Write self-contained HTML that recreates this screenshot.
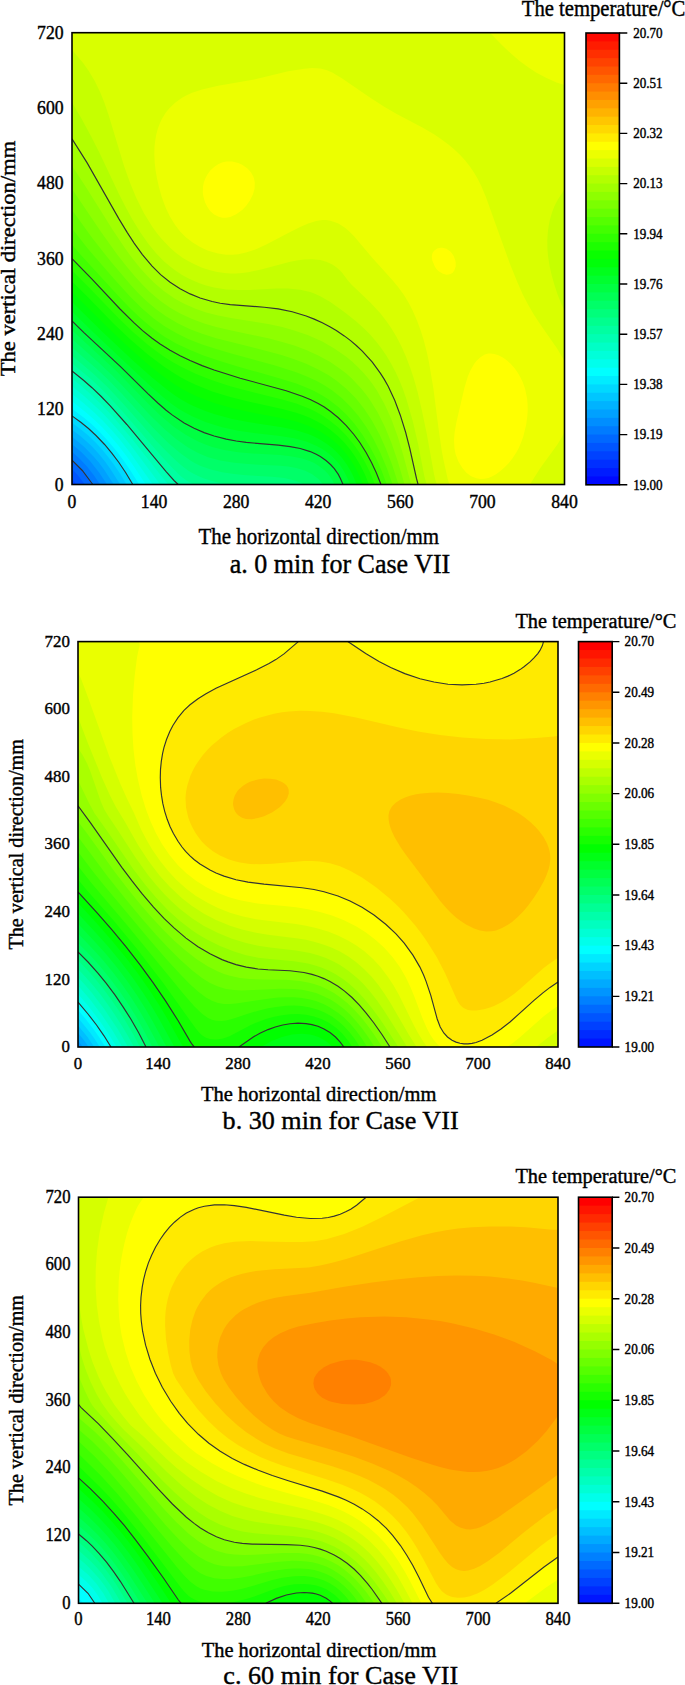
<!DOCTYPE html>
<html lang="en"><head><meta charset="utf-8"><title>Temperature distribution for Case VII</title>
<style>
html,body{margin:0;padding:0;background:#fff}
body{width:685px;height:1685px;overflow:hidden}
svg{display:block}
svg text{font-family:"Liberation Serif","DejaVu Serif",serif;fill:#000;stroke:#000;stroke-width:0.4px}
</style></head><body>
<svg width="685" height="1685" viewBox="0 0 685 1685">
<rect width="685" height="1685" fill="#fff"/>
<g id="plot-a">
<clipPath id="cpa"><rect x="72" y="32.7" width="492.5" height="451.8"/></clipPath>
<g clip-path="url(#cpa)">
<rect x="71" y="31.7" width="494.5" height="453.8" fill="#0042ff"/>
<path d="M72,32.7L564.5,32.7L564.5,484.5L76.5,484.5L72,479Z" fill="#0055ff" fill-rule="evenodd"/>
<path d="M72,32.7L564.5,32.7L564.5,484.5L84.9,484.5L78,475.6L72,469.1Z" fill="#0068ff" fill-rule="evenodd"/>
<path d="M72,32.7L564.5,32.7L564.5,484.5L92.8,484.5L82.3,470.5L72,460.1Z" fill="#007bff" fill-rule="evenodd"/>
<path d="M72,32.7L564.5,32.7L564.5,484.5L100.1,484.5L94,475.6L87,466.5L79.4,458.5L72,451.8Z" fill="#008eff" fill-rule="evenodd"/>
<path d="M72,32.7L564.5,32.7L564.5,484.5L107.1,484.5L99.1,472.5L90,461L81.8,452.5L72,444.2Z" fill="#00a1ff" fill-rule="evenodd"/>
<path d="M72,32.7L564.5,32.7L564.5,484.5L113.8,484.5L104,469.5L98.8,462.5L94,456.9L83.8,446.5L72,436.8Z" fill="#00b3ff" fill-rule="evenodd"/>
<path d="M72,32.7L564.5,32.7L564.5,484.5L120.2,484.5L110,468.4L104.2,460.5L98,453L92,446.6L86,440.9L80,435.8L72,429.7Z" fill="#00c6ff" fill-rule="evenodd"/>
<path d="M72,32.7L564.5,32.7L564.5,484.5L126.6,484.5L120.6,474.5L114,464.7L108,456.7L102,449.5L95.6,442.5L88,435.3L80,428.7L72,422.8Z" fill="#00d9ff" fill-rule="evenodd"/>
<path d="M72,32.7L564.5,32.7L564.5,484.5L132.8,484.5L125.6,472.5L118.9,462.5L112,453.4L104.6,444.5L96,435.5L88.5,428.5L81.1,422.5L72,415.9Z" fill="#00ecff" fill-rule="evenodd"/>
<path d="M72,32.7L564.5,32.7L564.5,484.5L139.2,484.5L130.4,470.5L123.6,460.5L116.1,450.5L108,440.9L100,432.3L92,424.6L84,417.8L72,408.7Z" fill="#00ffff" fill-rule="evenodd"/>
<path d="M72,32.7L564.5,32.7L564.5,484.5L145.8,484.5L133.9,466.5L126.8,456.5L118,445.1L110,435.7L102,427.1L94,419.4L86,412.4L72,401.3Z" fill="#00ffec" fill-rule="evenodd"/>
<path d="M72,32.7L564.5,32.7L564.5,484.5L152.8,484.5L130,452.5L120.6,440.5L112,430.6L102.6,420.5L94,412.2L84,403.5L72,393.7Z" fill="#00ffd9" fill-rule="evenodd"/>
<path d="M72,32.7L564.5,32.7L564.5,484.5L160.2,484.5L133.2,448.5L123.6,436.5L114,425.4L104,414.6L94,404.9L84,396L72,386.1Z" fill="#00ffc6" fill-rule="evenodd"/>
<path d="M72,32.7L564.5,32.7L564.5,484.5L168.4,484.5L160.1,474.5L131.7,438.5L112.9,416.5L102,405.1L92,395.5L82,386.6L72,378.5Z" fill="#00ffb3" fill-rule="evenodd"/>
<path d="M72,32.7L564.5,32.7L564.5,484.5L178.1,484.5L174,480.5L166.1,471.6L126.8,424.5L110,405.7L101.2,396.5L92,387.7L83.8,380.5L72,371Z" fill="#00ffa1" fill-rule="evenodd"/>
<path d="M72,32.7L564.5,32.7L564.5,484.5L193.6,484.5L186.1,480.2L182.1,477.3L178.1,473.7L170.1,465.6L160.1,454.8L123.5,412.5L108,395.6L100,387.5L92,380L72,363.3Z" fill="#00ff8e" fill-rule="evenodd"/>
<path d="M72,32.7L564.5,32.7L564.5,484.5L228.3,484.5L220.2,483L212.1,481L204.1,478.5L198.1,476L192.1,473L188.1,470.5L182.1,466L176.1,460.8L166.1,451.1L156.1,440.7L122.1,402.5L108,387.6L94,374.2L72,355.4Z" fill="#00ff7b" fill-rule="evenodd"/>
<path d="M72,32.7L564.5,32.7L564.5,484.5L304,484.5L300.1,482.5L294.7,480.5L284.2,478.1L272.2,476.8L246.2,475.2L234.2,474.1L222.2,472.2L210.1,469.3L200.1,465.7L194.1,462.7L190.1,460.3L180.1,453.1L168.1,442.7L152.1,426.8L122.1,394L109.1,380.5L96,368.2L72,347.4Z" fill="#00ff68" fill-rule="evenodd"/>
<path d="M72,32.7L564.5,32.7L564.5,484.5L323.1,484.5L318.2,478.8L312.2,474.2L304.7,470.5L296.2,468L288.2,466.5L280.2,465.7L248.2,464.1L234.2,462.8L220.2,460.5L208.1,457.2L198.1,453.1L188.1,447.6L176.1,439L164.1,428.8L150.1,415.2L123.2,386.5L111.3,374.5L98,362.1L72,339Z" fill="#00ff55" fill-rule="evenodd"/>
<path d="M72,32.7L564.5,32.7L564.5,484.5L334.5,484.5L332.5,480.5L330.3,476.9L328.3,474.3L324.8,470.5L318.2,465.4L314.2,463.1L310.2,461.3L302.2,458.5L292.2,456.5L280.2,455.1L252.2,453.5L238.2,452.2L224.2,449.9L212.1,446.9L204.1,444.1L198.1,441.5L186.1,435.1L174.1,426.9L168.1,422.1L160.1,415.2L148.1,403.6L115.8,370.6L72,330.3Z" fill="#00ff42" fill-rule="evenodd"/>
<path d="M72,32.7L564.5,32.7L564.5,484.5L343,484.5L340.4,478.5L338.3,474.5L335.6,470.5L332.3,466.3L328.3,462.4L324.3,459.2L320.3,456.5L314.2,453.3L304.2,449.6L294.2,447.3L280.2,445.3L252.2,443.1L238.2,441.4L224.2,438.7L210.1,434.7L202.1,431.8L196.1,429.2L188.1,425.2L182.1,421.7L170.1,413.4L156.1,401.4L120.5,366.6L83.9,332.6L72,321Z" fill="#00ff2f" fill-rule="evenodd"/>
<path d="M72,32.7L564.5,32.7L564.5,484.5L350.1,484.5L347.7,478.5L344.3,471.7L340.3,465.6L336.3,460.7L332.3,456.6L327.3,452.5L322.3,449L316.2,445.7L306.2,441.6L294.2,438.3L280.2,436L252.2,432.8L238.2,430.7L222.2,427.2L206.1,422.2L192.1,416.3L184.1,412.1L178.1,408.4L172.1,404.2L164.1,398.1L150.1,385.8L93.5,332.6L72,311.6Z" fill="#00ff1c" fill-rule="evenodd"/>
<path d="M72,32.7L564.5,32.7L564.5,484.5L356.6,484.5L353.4,476.5L350.4,470.5L346.8,464.5L342.3,458.3L337.1,452.5L332.3,448.1L326.3,443.5L320.3,439.7L314.2,436.6L308.2,434L296.2,430.2L282.2,427.2L248.2,422L232.2,418.9L214.1,414L206.1,411.3L198.1,408.1L190.1,404.4L182.1,400L176.1,396.2L168.1,390.6L152.1,377.6L132.1,359.7L103.1,332.6L72,302Z" fill="#00ff09" fill-rule="evenodd"/>
<path d="M72,32.7L564.5,32.7L564.5,484.5L362.9,484.5L359.6,476.5L355.8,468.5L351,460.5L346.3,454L340.3,447.1L334.3,441.5L328.3,436.7L320.3,431.5L314.2,428.4L308.2,425.7L296.2,421.6L282.2,418.2L248.2,411.8L232.2,408.2L214.1,403.1L198.1,397L190.1,393.3L182.1,389L174.1,384L166.1,378.5L158.1,372.5L148.1,364.4L128.1,346.8L108.8,328.6L72,291.9Z" fill="#09ff00" fill-rule="evenodd"/>
<path d="M72,32.7L564.5,32.7L564.5,484.5L369,484.5L364.9,474.5L360.3,465.2L355.1,456.5L350.3,449.8L344.3,442.6L338.3,436.5L330.3,429.8L322.3,424.3L316.2,420.9L310.2,418L304.2,415.5L296.2,412.8L282.2,409L248.2,401.6L230.2,397L212.1,391.4L196.1,385L188.1,381.2L180.1,376.9L172.1,372.1L164.1,366.8L148.1,354.8L130.1,339.2L114,323.9L86,295.3L72,281.5Z" fill="#1cff00" fill-rule="evenodd"/>
<path d="M72,32.7L564.5,32.7L564.5,484.5L375,484.5L370.1,472.5L365.1,462.5L359.3,452.5L353.7,444.5L346.3,435.5L338.3,427.5L330.3,420.9L322.3,415.4L316.2,412L310.2,409.1L296.2,403.6L282.2,399.6L248.2,391.1L230.2,386.2L212.1,380.3L196.1,374L180.1,366.2L172.1,361.7L164.1,356.7L156.1,351.1L148.1,345.1L133.5,332.6L118.9,318.6L88,286.4L72,270.6Z" fill="#2fff00" fill-rule="evenodd"/>
<path d="M72,32.7L564.5,32.7L564.5,484.5L381,484.5L376.2,472.5L370.3,460.1L364.3,449.5L357,438.5L350.3,430.1L342.3,421.5L334.3,414.4L324.3,407.1L318.2,403.5L312.2,400.4L304.2,396.9L296.2,394L282.2,389.6L246.2,379.9L226.2,374L208.1,367.9L192.1,361.4L176.1,353.7L162.1,345.3L149.9,336.6L136.1,324.8L121.5,310.6L92,279.1L72,258.7Z" fill="#42ff00" fill-rule="evenodd"/>
<path d="M72,32.7L564.5,32.7L564.5,484.5L386.8,484.5L381.5,470.5L376.1,458.5L369.8,446.5L362.3,434.4L354.3,423.6L346.3,414.6L338.3,407L328.3,399.3L322.3,395.5L314.2,391.1L306.2,387.4L296.2,383.6L278.2,377.9L240.2,367.2L222.2,361.8L204.1,355.7L190.1,350.1L176.1,343.5L164.1,336.5L152.1,328L140.1,317.8L130.4,308.6L120,297.8L80.4,254.6L72,244.8Z" fill="#55ff00" fill-rule="evenodd"/>
<path d="M72,32.7L564.5,32.7L564.5,484.5L392.6,484.5L387,468.5L380.3,452.7L373.2,438.5L366.3,427L358.3,415.8L350.3,406.4L342.3,398.5L332.3,390.5L324.3,385.3L316.2,380.8L306.2,376.2L296.2,372.3L274.2,365.3L232.2,353.8L216.1,349.1L202.1,344.5L188.1,338.9L176.1,333.1L164.1,326L153.8,318.6L142.1,308.6L130,296.6L113.7,278.6L87.7,248.6L72,228.5Z" fill="#68ff00" fill-rule="evenodd"/>
<path d="M72,32.7L564.5,32.7L564.5,484.5L398.5,484.5L392,464.5L385.8,448.5L379.5,434.5L371.9,420.5L364.3,409L356,398.5L346.3,388.7L336.3,380.5L328.3,375.1L318.2,369.4L306.2,363.8L294.2,359.2L282.2,355.3L270.2,351.9L216.1,338.2L202.1,333.8L190.1,329.2L178.1,323.6L166.3,316.6L156.1,309.2L146.1,300.7L138.1,292.9L130.3,284.6L111.6,262.6L92.6,238.6L72,209.9Z" fill="#7bff00" fill-rule="evenodd"/>
<path d="M72,32.7L564.5,32.7L564.5,484.5L404.6,484.5L397.5,460.5L391.3,442.5L384.7,426.5L377.7,412.5L370.3,400.5L366,394.5L361.2,388.5L351.8,378.5L346.3,373.6L340.3,368.9L330.3,362.1L318.2,355.5L306.2,350.1L294.2,345.6L282.2,341.9L268.2,338.3L230.2,330.3L216.1,327L204.1,323.5L192.1,319.1L180.1,313.5L170.1,307.7L160.1,300.7L150.1,292.2L142.3,284.6L135,276.6L126.6,266.6L117.2,254.6L101.4,232.6L72,189.1Z" fill="#8eff00" fill-rule="evenodd"/>
<path d="M72,32.7L564.5,32.7L564.5,484.5L411.1,484.5L403.1,454.5L397.7,436.5L391.1,418.5L384.3,403.7L376.9,390.5L372.3,383.8L368.3,378.5L363.2,372.5L358.3,367.4L352.3,361.8L346.3,356.8L334.3,348.4L322.3,341.6L308.2,335.3L294.2,330.4L282.2,327L268.2,323.9L232.2,318.3L218.1,315.6L206.1,312.5L196.1,309.1L184.1,303.8L174.1,298.2L164.1,291.3L154.1,282.8L147.8,276.6L140.1,268L132.5,258.6L125.2,248.6L113.1,230.6L86,187.2L72,165.8Z" fill="#a1ff00" fill-rule="evenodd"/>
<path d="M72,32.7L564.5,32.7L564.5,484.5L418.1,484.5L416.5,478.5L409.8,448.5L404.5,428.5L398.7,410.5L392.2,394.5L388.3,386.6L384.3,379.4L380.3,373.1L375.7,366.6L370.3,359.8L364.3,353.2L358.3,347.3L352.3,342L342.3,334.5L330.3,326.9L318.2,320.8L306.2,316L292.2,311.7L278.2,308.9L264.2,307.2L238.2,305.4L228.2,304.4L218.1,302.8L208.1,300.5L201.9,298.6L194.1,295.7L182.1,289.9L176.1,286.4L170.5,282.6L160.1,274.1L152.5,266.6L145.6,258.6L137.9,248.6L130.1,237L117.7,216.6L88,164.4L72,138.8Z" fill="#b3ff00" fill-rule="evenodd"/>
<path d="M72,32.7L564.5,32.7L564.5,484.5L426.7,484.5L424.4,476.5L418.2,444.5L412.6,420.5L406.2,398.5L402.7,388.5L399.4,380.5L395.8,372.5L391.6,364.6L386.3,355.6L381.5,348.6L376.3,341.8L370.3,334.8L364.3,328.7L356.3,321.4L344.3,311.9L330.3,302.1L320.3,296.3L314.2,293.6L310.2,292.1L300.2,289.7L288.2,288.4L276.2,288.4L250.2,289.9L238.2,290.1L226.2,289.4L214.1,287.5L206.1,285.5L200.1,283.5L194.1,281.1L188.1,278.3L182.1,275L176.1,271.1L170.1,266.6L164.1,261.4L156.1,253.2L148.1,243.4L140.1,232L132.1,218.9L126.1,208L119.2,194.6L99.3,152.6L91.3,136.7L81.6,118.7L72,102.5Z" fill="#c6ff00" fill-rule="evenodd"/>
<path d="M72,32.7L564.5,32.7L564.5,188.9L562.5,192.6L558.5,198.5L556.5,202L554.3,206.6L552,212.6L549.7,220.6L548.6,226.6L547.8,232.6L547.3,240.6L547.4,248.6L548.1,256.6L549.7,266.6L551.5,274.6L554.3,284.6L557.6,294.6L561.6,304.6L564.5,310.5L564.5,478.7L560.5,484.5L436.9,484.5L435.5,480.5L434.1,474.5L426.9,434.5L421.9,410.5L417.7,392.5L413.8,378.5L410.3,368.1L405.9,356.6L401.5,346.6L396.3,336.6L391.5,328.6L386.3,320.9L380.3,313.3L370.3,302.5L351.4,284.6L347.9,280.6L342.3,272.9L340.3,270.8L336.3,267.3L332.3,264.6L326.3,261.8L320.3,260.1L312.2,259.2L304.2,259.4L298.2,260.2L290.2,261.7L260.2,269.7L248.2,272.2L242.2,273L236.2,273.4L230.2,273.4L224.2,273L216.1,271.7L210.1,270.3L202.1,267.7L194.9,264.6L188.1,261.1L182.1,257.4L176.1,252.9L170.1,247.8L161.3,238.6L156.4,232.6L152.1,226.5L144.1,213.5L136.1,197.5L130.1,183.1L124.2,166.6L108.5,114.7L104.4,102.7L100.4,92.7L94.6,80.7L88.6,70.7L82.9,62.7L74,52.3L72,49.5Z" fill="#d9ff00" fill-rule="evenodd"/>
<path d="M489.9,32.7L564.5,32.7L564.5,84.9L556.5,82.4L546.5,78.1L536.5,72.7L528.5,67.5L519.3,60.7L510.4,53.1L502.4,45.5ZM304.3,68.7L312.2,68.1L320.3,68.4L326.3,69.9L332.3,72.5L342.6,78.7L370.3,97.8L384.3,106.8L396.3,113.7L422.4,127.5L434.4,134.5L440.6,138.7L448.4,144.4L454.4,149.5L460.4,155.3L465.2,160.6L469.9,166.6L474,172.6L477.5,178.6L481.5,186.6L485.7,196.6L510.2,264.6L517.5,282.6L522.8,294.6L528,304.6L533.8,314.6L540.4,324.6L557.1,348.6L564.5,360.9L564.5,432.1L561.1,438.5L557.4,444.5L540,468.5L529.9,484.5L449.7,484.5L448.7,482.5L447.6,478.5L443.6,460.5L441.7,450.5L438.8,430.5L433.4,388.5L429,362.6L426.9,352.6L423.8,340.6L420.7,330.6L417,320.6L412.6,310.6L408.5,302.6L403.6,294.6L398.3,287.2L392.3,280L372.9,258.6L354.3,236.4L348.3,230.5L344.3,227.2L338.3,223.6L334.3,221.9L330.3,220.8L326.3,220.1L322.3,220.1L316.2,221.1L308.2,223.6L300.2,227L290.2,231.9L266.3,244.6L258.2,248.3L252.4,250.6L246,252.6L238.2,254.2L232.2,254.8L226.2,254.7L218.1,253.5L208.1,250.7L200.1,247.1L192.7,242.6L186.1,237.5L180.1,231.5L174.8,224.6L169.9,216.6L166,208.6L163.7,202.6L161.6,196.6L158.8,186.6L157,178.6L155.6,170.6L154.7,162.6L154.3,154.6L154.5,146.6L155.2,140.7L156.2,134.7L157.8,128.7L160.1,122.7L162.1,118.5L165.7,112.7L168.9,108.7L175.1,102.7L182.1,97.8L186.1,95.5L192.1,92.8L202.1,89.4L218.1,85.7L254.2,79.6L288.2,71.3Z" fill="#ecff00" fill-rule="evenodd"/>
<path d="M222,162.6L226.2,161.6L232.2,161.5L238.2,163L242.2,164.8L247.5,168.6L251.1,172.6L253.3,176.6L254,178.6L254.8,182.6L254.6,188.6L252.9,194.6L249.9,200.6L246.2,205.8L242.2,209.9L236.2,214.3L230.2,216.9L226.2,217.7L222.2,217.7L218.1,216.6L214.1,214.5L210.1,210.9L207.1,206.6L205.1,202.6L203.4,196.6L202.8,192.6L203,186.6L203.8,182.6L205.3,178.6L207.4,174.6L210.3,170.6L214.1,167L218.1,164.3ZM437.2,248.6L440.4,247.7L442.4,247.7L446.4,248.8L450.4,251.6L452.4,253.9L453.9,256.6L455.3,260.6L455.7,262.6L455.7,266.6L454.3,270.6L452.4,272.9L450.4,274.1L448.4,274.6L446.4,274.7L442.4,273.5L438.4,271L436.4,268.9L434.8,266.6L432.3,260.6L431.8,256.6L432.1,254.6L432.8,252.6L434.4,250.4ZM484.7,354.6L488.4,353.5L490.4,353.4L494.4,353.9L498.4,355.2L502.4,357.3L506.4,360.1L510.4,363.6L514.8,368.6L517.6,372.5L520.5,377.4L522.9,382.5L525,388.5L527.1,398.5L527.6,404.5L527.7,410.5L527.3,416.5L526.2,424.5L523.3,436.5L521.1,442.5L518.5,448.5L516.3,452.5L512.4,458.5L508.4,463.5L504.4,467.6L500.4,471.1L496.4,474L492.4,476.3L488.4,477.9L484.4,478.8L480.4,479L476.4,478.3L472.4,476.8L470.4,475.7L466.4,472.7L462.4,468.1L458.4,461.6L455.7,454.5L454.5,448.5L454,440.5L454.6,432.5L456.4,422.3L464.4,388.1L467.8,376.5L470.4,370.4L474.4,363.6L476.4,361L480.4,357.2Z" fill="#ffff00" fill-rule="evenodd"/>
<path d="M92.8,484.5L82.3,470.5L72,460.1M132.8,484.5L125.6,472.5L118.9,462.5L112,453.4L104.6,444.5L96,435.5L88.5,428.5L81.1,422.5L72,415.9M178.2,484.5L174,480.5L166.1,471.6L126.8,424.5L110,405.7L101.2,396.5L92,387.7L83.8,380.5L72,371M343,484.5L340.4,478.5L338.3,474.4L334.3,468.7L330.5,464.5L326,460.5L320.3,456.5L316.2,454.3L310.2,451.6L300.2,448.5L290.2,446.6L278.2,445.1L246.2,442.4L236.2,441L226.2,439.1L214.1,436L204.1,432.6L194.1,428.3L184.1,423L172.1,414.9L166.1,410.2L158.1,403.2L148.1,393.8L120.5,366.6L83.9,332.6L72,321M381,484.5L376.3,472.8L371.5,462.5L366.1,452.5L359.8,442.5L353.9,434.5L346.3,425.6L338.3,417.8L330.3,411.3L324.3,407.1L318.2,403.5L310.2,399.5L302.2,396.2L286.2,390.8L240.2,378.2L214.1,370L202.1,365.6L190.1,360.5L180.1,355.8L170.1,350.3L160.1,344L152.1,338.3L142.6,330.6L134.1,322.9L120,309L92,279.1L72,258.7M418.1,484.5L416.5,478.5L409.8,448.5L405.7,432.5L400.3,415.2L394.8,400.5L388.3,386.5L384.3,379.4L380.3,373.1L372.3,362.2L362.3,351.1L356.3,345.5L350.3,340.4L344.3,335.9L336.3,330.5L330.3,326.9L322.3,322.7L314.2,319.1L306.2,316L292.2,311.7L278.2,308.9L264.2,307.2L230.2,304.6L220.2,303.2L212.1,301.5L200.1,298L190.1,293.9L180.1,288.8L170.1,282.3L160.6,274.6L152.1,266.1L142.4,254.6L134.1,243.1L127.3,232.6L118.8,218.6L87,162.6L72,138.8" fill="none" stroke="#333" stroke-width="1.15"/>
</g>
<rect x="72" y="32.7" width="492.5" height="451.8" fill="none" stroke="#000" stroke-width="1.6"/>
<rect x="586" y="33.00" width="33.4" height="451.80" fill="#ff0900"/>
<rect x="586" y="41.37" width="33.4" height="443.43" fill="#ff1c00"/>
<rect x="586" y="49.73" width="33.4" height="435.07" fill="#ff2f00"/>
<rect x="586" y="58.10" width="33.4" height="426.70" fill="#ff4200"/>
<rect x="586" y="66.47" width="33.4" height="418.33" fill="#ff5500"/>
<rect x="586" y="74.83" width="33.4" height="409.97" fill="#ff6800"/>
<rect x="586" y="83.20" width="33.4" height="401.60" fill="#ff7b00"/>
<rect x="586" y="91.57" width="33.4" height="393.23" fill="#ff8e00"/>
<rect x="586" y="99.93" width="33.4" height="384.87" fill="#ffa100"/>
<rect x="586" y="108.30" width="33.4" height="376.50" fill="#ffb300"/>
<rect x="586" y="116.67" width="33.4" height="368.13" fill="#ffc600"/>
<rect x="586" y="125.03" width="33.4" height="359.77" fill="#ffd900"/>
<rect x="586" y="133.40" width="33.4" height="351.40" fill="#ffec00"/>
<rect x="586" y="141.77" width="33.4" height="343.03" fill="#ffff00"/>
<rect x="586" y="150.13" width="33.4" height="334.67" fill="#ecff00"/>
<rect x="586" y="158.50" width="33.4" height="326.30" fill="#d9ff00"/>
<rect x="586" y="166.87" width="33.4" height="317.93" fill="#c6ff00"/>
<rect x="586" y="175.23" width="33.4" height="309.57" fill="#b3ff00"/>
<rect x="586" y="183.60" width="33.4" height="301.20" fill="#a1ff00"/>
<rect x="586" y="191.97" width="33.4" height="292.83" fill="#8eff00"/>
<rect x="586" y="200.33" width="33.4" height="284.47" fill="#7bff00"/>
<rect x="586" y="208.70" width="33.4" height="276.10" fill="#68ff00"/>
<rect x="586" y="217.07" width="33.4" height="267.73" fill="#55ff00"/>
<rect x="586" y="225.43" width="33.4" height="259.37" fill="#42ff00"/>
<rect x="586" y="233.80" width="33.4" height="251.00" fill="#2fff00"/>
<rect x="586" y="242.17" width="33.4" height="242.63" fill="#1cff00"/>
<rect x="586" y="250.53" width="33.4" height="234.27" fill="#09ff00"/>
<rect x="586" y="258.90" width="33.4" height="225.90" fill="#00ff09"/>
<rect x="586" y="267.27" width="33.4" height="217.53" fill="#00ff1c"/>
<rect x="586" y="275.63" width="33.4" height="209.17" fill="#00ff2f"/>
<rect x="586" y="284.00" width="33.4" height="200.80" fill="#00ff42"/>
<rect x="586" y="292.37" width="33.4" height="192.43" fill="#00ff55"/>
<rect x="586" y="300.73" width="33.4" height="184.07" fill="#00ff68"/>
<rect x="586" y="309.10" width="33.4" height="175.70" fill="#00ff7b"/>
<rect x="586" y="317.47" width="33.4" height="167.33" fill="#00ff8e"/>
<rect x="586" y="325.83" width="33.4" height="158.97" fill="#00ffa1"/>
<rect x="586" y="334.20" width="33.4" height="150.60" fill="#00ffb3"/>
<rect x="586" y="342.57" width="33.4" height="142.23" fill="#00ffc6"/>
<rect x="586" y="350.93" width="33.4" height="133.87" fill="#00ffd9"/>
<rect x="586" y="359.30" width="33.4" height="125.50" fill="#00ffec"/>
<rect x="586" y="367.67" width="33.4" height="117.13" fill="#00ffff"/>
<rect x="586" y="376.03" width="33.4" height="108.77" fill="#00ecff"/>
<rect x="586" y="384.40" width="33.4" height="100.40" fill="#00d9ff"/>
<rect x="586" y="392.77" width="33.4" height="92.03" fill="#00c6ff"/>
<rect x="586" y="401.13" width="33.4" height="83.67" fill="#00b3ff"/>
<rect x="586" y="409.50" width="33.4" height="75.30" fill="#00a1ff"/>
<rect x="586" y="417.87" width="33.4" height="66.93" fill="#008eff"/>
<rect x="586" y="426.23" width="33.4" height="58.57" fill="#007bff"/>
<rect x="586" y="434.60" width="33.4" height="50.20" fill="#0068ff"/>
<rect x="586" y="442.97" width="33.4" height="41.83" fill="#0055ff"/>
<rect x="586" y="451.33" width="33.4" height="33.47" fill="#0042ff"/>
<rect x="586" y="459.70" width="33.4" height="25.10" fill="#002fff"/>
<rect x="586" y="468.07" width="33.4" height="16.73" fill="#001cff"/>
<rect x="586" y="476.43" width="33.4" height="8.37" fill="#0009ff"/>
<rect x="586" y="33" width="33.4" height="451.8" fill="none" stroke="#000" stroke-width="1.6"/>
<text x="633.2" y="489.60" font-size="14.0" textLength="29.4" lengthAdjust="spacingAndGlyphs">19.00</text>
<text x="633.2" y="439.40" font-size="14.0" textLength="29.4" lengthAdjust="spacingAndGlyphs">19.19</text>
<text x="633.2" y="389.20" font-size="14.0" textLength="29.4" lengthAdjust="spacingAndGlyphs">19.38</text>
<text x="633.2" y="339.00" font-size="14.0" textLength="29.4" lengthAdjust="spacingAndGlyphs">19.57</text>
<text x="633.2" y="288.80" font-size="14.0" textLength="29.4" lengthAdjust="spacingAndGlyphs">19.76</text>
<text x="633.2" y="238.60" font-size="14.0" textLength="29.4" lengthAdjust="spacingAndGlyphs">19.94</text>
<text x="633.2" y="188.40" font-size="14.0" textLength="29.4" lengthAdjust="spacingAndGlyphs">20.13</text>
<text x="633.2" y="138.20" font-size="14.0" textLength="29.4" lengthAdjust="spacingAndGlyphs">20.32</text>
<text x="633.2" y="88.00" font-size="14.0" textLength="29.4" lengthAdjust="spacingAndGlyphs">20.51</text>
<text x="633.2" y="37.80" font-size="14.0" textLength="29.4" lengthAdjust="spacingAndGlyphs">20.70</text>
<path d="M619.4,484.80h7.9M619.4,434.60h7.9M619.4,384.40h7.9M619.4,334.20h7.9M619.4,284.00h7.9M619.4,233.80h7.9M619.4,183.60h7.9M619.4,133.40h7.9M619.4,83.20h7.9M619.4,33.00h7.9" stroke="#000" stroke-width="1.4" fill="none"/>
<text x="72" y="508.40" font-size="18.2" text-anchor="middle" textLength="8.8" lengthAdjust="spacingAndGlyphs">0</text>
<text x="154.1" y="508.40" font-size="18.2" text-anchor="middle" textLength="26.5" lengthAdjust="spacingAndGlyphs">140</text>
<text x="236.2" y="508.40" font-size="18.2" text-anchor="middle" textLength="26.5" lengthAdjust="spacingAndGlyphs">280</text>
<text x="318.2" y="508.40" font-size="18.2" text-anchor="middle" textLength="26.5" lengthAdjust="spacingAndGlyphs">420</text>
<text x="400.3" y="508.40" font-size="18.2" text-anchor="middle" textLength="26.5" lengthAdjust="spacingAndGlyphs">560</text>
<text x="482.4" y="508.40" font-size="18.2" text-anchor="middle" textLength="26.5" lengthAdjust="spacingAndGlyphs">700</text>
<text x="564.5" y="508.40" font-size="18.2" text-anchor="middle" textLength="26.5" lengthAdjust="spacingAndGlyphs">840</text>
<text x="63.6" y="490.50" font-size="18.2" text-anchor="end" textLength="8.8" lengthAdjust="spacingAndGlyphs">0</text>
<text x="63.6" y="415.20" font-size="18.2" text-anchor="end" textLength="26.5" lengthAdjust="spacingAndGlyphs">120</text>
<text x="63.6" y="339.90" font-size="18.2" text-anchor="end" textLength="26.5" lengthAdjust="spacingAndGlyphs">240</text>
<text x="63.6" y="264.60" font-size="18.2" text-anchor="end" textLength="26.5" lengthAdjust="spacingAndGlyphs">360</text>
<text x="63.6" y="189.30" font-size="18.2" text-anchor="end" textLength="26.5" lengthAdjust="spacingAndGlyphs">480</text>
<text x="63.6" y="114.00" font-size="18.2" text-anchor="end" textLength="26.5" lengthAdjust="spacingAndGlyphs">600</text>
<text x="63.6" y="38.70" font-size="18.2" text-anchor="end" textLength="26.5" lengthAdjust="spacingAndGlyphs">720</text>
<text x="318.8" y="543.60" font-size="23.6" text-anchor="middle" textLength="240.5" lengthAdjust="spacingAndGlyphs">The horizontal direction/mm</text>
<text transform="translate(15.3,258.5) rotate(-90)" font-size="21.9" text-anchor="middle" textLength="235.5" lengthAdjust="spacingAndGlyphs">The vertical direction/mm</text>
<text x="340" y="572.60" font-size="27" text-anchor="middle" textLength="220.5" lengthAdjust="spacingAndGlyphs">a. 0 min for Case VII</text>
<text x="685.4" y="15.80" font-size="23.2" text-anchor="end" textLength="163.6" lengthAdjust="spacingAndGlyphs">The temperature/°C</text>
</g>
<g id="plot-b">
<clipPath id="cpb"><rect x="78" y="641.6" width="480" height="405.4"/></clipPath>
<g clip-path="url(#cpb)">
<rect x="77" y="640.6" width="482" height="407.4" fill="#0095ff"/>
<path d="M78,641.6L558,641.6L558,1047L82.8,1047L78,1040.6Z" fill="#00aaff" fill-rule="evenodd"/>
<path d="M78,641.6L558,641.6L558,1047L88.6,1047L84,1040.2L78,1032.9Z" fill="#00bfff" fill-rule="evenodd"/>
<path d="M78,641.6L558,641.6L558,1047L94.2,1047L87.5,1037L78,1025.4Z" fill="#00d4ff" fill-rule="evenodd"/>
<path d="M78,641.6L558,641.6L558,1047L99.8,1047L94.7,1039L90,1032.4L78,1017.8Z" fill="#00eaff" fill-rule="evenodd"/>
<path d="M78,641.6L558,641.6L558,1047L105.4,1047L99,1037L93.4,1029L86,1019.5L78,1010Z" fill="#00ffff" fill-rule="evenodd"/>
<path d="M78,641.6L558,641.6L558,1047L111,1047L104,1035.8L96.5,1025L88,1014L78,1002Z" fill="#00ffea" fill-rule="evenodd"/>
<path d="M78,641.6L558,641.6L558,1047L116.6,1047L108,1033L98.3,1019L88,1005.6L78,993.9Z" fill="#00ffd4" fill-rule="evenodd"/>
<path d="M78,641.6L558,641.6L558,1047L122.4,1047L112.8,1031L101.9,1015L89.7,999.1L78,985.6Z" fill="#00ffbf" fill-rule="evenodd"/>
<path d="M78,641.6L558,641.6L558,1047L128.1,1047L117.7,1029L104.2,1009.1L92,993.1L85.2,985.1L78,977.3Z" fill="#00ffaa" fill-rule="evenodd"/>
<path d="M78,641.6L558,641.6L558,1047L134,1047L128,1036.1L122,1025.9L115,1015L108,1004.8L100.8,995.1L94,986.6L86,977.4L78,968.9Z" fill="#00ff95" fill-rule="evenodd"/>
<path d="M78,641.6L558,641.6L558,1047L139.9,1047L133.6,1035L126.6,1023L119.1,1011.1L110.8,999.1L103.4,989.1L95.3,979.1L86.4,969.1L78,960.5Z" fill="#00ff80" fill-rule="evenodd"/>
<path d="M78,641.6L558,641.6L558,1047L146,1047L138.8,1033L130.8,1019L123.2,1007.1L115.1,995.1L106.1,983.1L97.9,973.1L88,962L78,952Z" fill="#00ff6a" fill-rule="evenodd"/>
<path d="M78,641.6L558,641.6L558,1047L152.5,1047L143,1029L136.3,1017L128,1003.7L119.4,991.1L110,978.5L100,966.3L91.8,957.1L78,942.9Z" fill="#00ff55" fill-rule="evenodd"/>
<path d="M78,641.6L558,641.6L558,1047L159.3,1047L147.6,1025L140.8,1013.1L132.1,999.1L122.5,985.1L113.5,973.1L103.7,961.1L94,950.3L78,933.5Z" fill="#00ff40" fill-rule="evenodd"/>
<path d="M78,641.6L558,641.6L558,1047L166.6,1047L152.5,1021L145.6,1009.1L136.8,995.1L127.2,981.1L116.7,967.1L106,954.1L96,942.9L78,923.7Z" fill="#00ff2b" fill-rule="evenodd"/>
<path d="M78,641.6L558,641.6L558,1047L174.5,1047L159.1,1019L152.1,1007.1L143.2,993.1L132.2,977.1L120.1,961.1L108.6,947.1L96,932.9L78,913.6Z" fill="#00ff15" fill-rule="evenodd"/>
<path d="M78,641.6L558,641.6L558,1047L332.5,1047L330,1044.4L326,1041.2L322,1038.7L318.4,1037L314,1035.5L310,1034.6L302,1033.8L298,1033.9L292,1034.6L282,1037L271.8,1041L261,1047L183.3,1047L179.7,1041L167.5,1019L159.1,1005.1L148.7,989.1L137.5,973.1L125.4,957.1L112,940.7L96,922.5L78,903.1Z" fill="#00ff00" fill-rule="evenodd"/>
<path d="M78,641.6L558,641.6L558,1047L343.9,1047L340,1041.8L335.5,1037L330,1032.5L324,1028.9L318,1026.3L312,1024.6L306,1023.6L298,1023.2L290,1023.8L282.7,1025L275.2,1027L268,1029.6L260.4,1033L254,1036.6L238.9,1047L194.4,1047L192,1044.2L190,1041.1L178.3,1021L165.7,1001.1L153.4,983.1L140.3,965.1L126.3,947.1L112,929.9L98,913.9L78,892Z" fill="#15ff00" fill-rule="evenodd"/>
<path d="M78,641.6L558,641.6L558,1047L352.3,1047L348,1040.5L342,1033.3L336,1027.8L329.3,1023L322,1019.3L314,1016.5L306,1014.8L298,1014.1L290,1014.3L282,1015.2L274,1016.8L265.9,1019L258,1021.9L250.8,1025L230,1036L226,1037.6L222,1038.7L216,1039.4L210,1039L206,1037.7L202,1035.2L199.6,1033L196,1028.8L163.2,983.1L137.1,949.1L114,921L86,889.2L78,879.5Z" fill="#2aff00" fill-rule="evenodd"/>
<path d="M78,641.6L558,641.6L558,1047L359.9,1047L354.8,1039L350,1032.7L344,1026.2L338,1020.9L332,1016.6L324,1012.2L318,1009.7L310,1007.4L302,1006.1L294,1005.6L286,1005.8L276,1006.9L268,1008.3L260,1010.2L250.1,1013.1L232,1019L226,1020.5L222,1021L216,1020.8L212,1019.8L208,1018L202,1013.8L194,1006L184,994.5L127.2,925.2L91.6,883.2L78,866Z" fill="#40ff00" fill-rule="evenodd"/>
<path d="M78,641.6L558,641.6L558,1047L367.2,1047L362,1038.7L356,1030.4L350,1023.5L344,1017.6L338,1012.7L330,1007.4L324,1004.3L316,1001.1L310,999.5L302,998L294,997.3L286,997.2L278,997.6L268,998.7L236,1003.6L230,1004L224,1003.9L218,1002.9L212,1000.8L206,997.6L198,991.6L190,984.3L180,974L166,958.7L150,940.3L102.3,883.2L92.8,871.3L78,851.7Z" fill="#55ff00" fill-rule="evenodd"/>
<path d="M78,641.6L558,641.6L558,1047L374.6,1047L368.2,1037L362.5,1029L356,1021L350,1014.6L344,1009.1L336,1003L330,999.3L322,995.4L316,993.1L308,990.9L302,989.8L294,988.9L280,988.7L252,990.1L242,990.4L234,990L226,988.9L218,986.6L210,983L202,978L192,970.2L180,959.4L168,947.5L156,934.7L142,918.7L125.8,899.2L108.2,877.3L78,836.7Z" fill="#6aff00" fill-rule="evenodd"/>
<path d="M78,641.6L558,641.6L558,1047L382.1,1047L374.4,1035L367.2,1025L360.9,1017L354,1009.5L347.3,1003.1L340,997.2L334,993.1L326,988.7L320,986.1L314,984L308,982.4L300,980.9L286,979.8L262,979.6L250,979.1L240,978L230,975.8L224,974L218,971.6L208,966.5L196,958.7L184,949.3L174,940.4L162,928.6L150,915.6L139.4,903.2L126.5,887.2L114.3,871.3L86,832L78,821.4Z" fill="#80ff00" fill-rule="evenodd"/>
<path d="M78,641.6L558,641.6L558,1047L390,1047L382.3,1035L373.9,1023L366.2,1013.1L359.4,1005.1L352,997.5L344.6,991.1L338,986.3L330,981.5L324,978.6L318,976.3L312,974.4L304,972.5L292,971L266,969.6L256,968.7L244,966.6L232,963.3L224,960.4L218,957.8L206,951.6L194,944L180,933.2L170,924.2L160,914.2L150,903.2L140,891.2L121.8,867.3L90,822.1L78,805.8Z" fill="#95ff00" fill-rule="evenodd"/>
<path d="M78,641.6L558,641.6L558,1047L398.3,1047L388,1030.9L379.9,1019L372,1008.2L364.5,999.1L357.1,991.1L350,984.5L344,979.8L336,974.5L330,971.3L322,967.7L316,965.7L308,963.5L294,961.2L269.7,959.1L258,957.7L246,955.2L234,951.6L220,946.1L206,939.1L198,934.3L192,930.3L180,921L168,910.2L156,897.6L145.6,885.2L133.4,869.3L108,832.3L94.5,813.3L89.2,803.4L78.6,781.4L78,779.4Z" fill="#aaff00" fill-rule="evenodd"/>
<path d="M78,641.6L558,641.6L558,1047L407.2,1047L384,1010.5L377.4,1001.1L370,991.5L362.5,983.1L356,976.9L348,970.4L340,965.1L334,961.8L326,958.1L318,955.2L310,953L296,950.5L270,947.5L258,945.7L246,943.1L232,938.8L218,933.1L204,925.9L192,918.3L180,909L172,901.8L164,893.8L156,884.8L148,874.9L135.3,857.3L118,830.4L107.8,815.3L104.3,809.4L100.8,801.4L90.4,771.4L87.1,763.4L82.9,755.4L78,747.9Z" fill="#bfff00" fill-rule="evenodd"/>
<path d="M78,641.6L558,641.6L558,1047L416.7,1047L409,1035L390,1002.2L384,992.9L378.4,985.1L371.9,977.1L364,968.9L356,962L348,956.3L340,951.6L332,947.8L324,944.7L314,941.7L306,939.8L298,938.4L268,934.7L256,932.8L242,929.5L230,925.8L216,920L204,913.8L192,906.1L182,898.3L170,887.1L159.3,875.3L148.7,861.3L138.2,845.3L124.6,821.3L116.2,807.4L110,795.4L102,777.7L88,743.4L78,717.3Z" fill="#d5ff00" fill-rule="evenodd"/>
<path d="M78,641.6L558,641.6L558,1030.5L548,1037.4L536,1047L427.2,1047L422.9,1041L418,1033L413.7,1025L399,995.1L393.3,985.1L388,976.9L380.5,967.1L373.1,959.1L364.1,951.1L356,945.3L348,940.4L338,935.4L328,931.4L316,927.9L306,925.7L296,924L266,920.6L256,919.2L242,916.2L230,912.7L218,908L208,903.1L196,895.9L186,888.4L176,879.4L168,870.8L160,860.8L152,849.2L146.2,839.3L141,829.3L134,813L127.4,799.4L120.2,783.4L109.7,757.4L86.6,693.5L81.3,679.5L78,672.2Z" fill="#eaff00" fill-rule="evenodd"/>
<path d="M138.3,641.6L558,641.6L558,1005.9L552,1010L544,1016.1L520,1037.2L512.8,1043L507.1,1047L440.2,1047L436.3,1043L433.1,1039L430,1034.2L427.2,1029L422.8,1019L414.5,997.1L410.4,987.1L405.6,977.1L399.8,967.1L392.5,957.1L384,947.6L376,940.2L366,932.5L356,926.3L344,920.2L332,915.4L320,911.9L308,909.2L296,907.3L284,906L262,904.1L256,903.3L240,900.2L229.1,897.2L218,893L206,887.1L196,880.8L186.4,873.3L178,865.2L169.7,855.3L162,844L156,833.3L150.5,821.3L146,809.4L141.7,795.4L137.9,779.4L135.4,765.4L133.5,749.4L132.5,733.5L132.2,717.5L133,695.5L134.7,675.5L137,657.6L138.2,651.6L139.7,645.6L139.6,643.6Z" fill="#ffff00" fill-rule="evenodd"/>
<path d="M298.3,641.6L347.8,641.6L365.7,653.6L379,661.6L392,668.1L406,674L422,679.2L436,682.4L450,684.4L464,684.9L476,684.3L488,682.4L500,679.2L510,675.2L516,672L522,668.3L528,663.6L532,660L536.2,655.6L540,650.4L542.4,645.6L543.5,641.6L558,641.6L558,982.1L550,987.4L542,993.5L534,1000.4L514,1018.6L504,1026.8L494,1033.8L484,1039.4L478,1041.8L472,1043.4L466,1043.9L462,1043.7L458,1042.8L453.4,1041L450,1039L445.5,1035L443.8,1033L441.3,1029L438,1021.6L430.7,995.1L425.2,979.1L419.9,967.1L414.2,957.1L405.8,945.2L400.8,939.2L395.3,933.2L384,922.7L378,918L370,912.3L360,906.2L348,900.1L336,895.3L324,891.7L314,889.5L302,887.7L264,884.1L246,881.7L232,878.6L226,876.8L218,873.8L210,870.1L202,865.4L196,861.1L190,855.9L184,849.5L179.3,843.3L175.5,837.3L171.3,829.3L168.7,823.3L165.9,815.3L163.7,807.4L162.5,801.4L161.2,793.4L160.5,785.4L160.4,771.4L161,763.4L161.9,757.4L163.5,749.4L165.2,743.4L167.2,737.5L170,731L172.9,725.5L176,720.4L180,715L186,708.4L192,703.2L200,697.4L208,692.6L218,687.3L253,671.6L269,663.6L275.8,659.6L282,655.4L289.2,649.6Z" fill="#ffea00" fill-rule="evenodd"/>
<path d="M288.7,711.5L300,710.8L310,710.9L322,711.8L334,713.3L356,717.4L400,727.7L418,731.4L440,735.1L462,737.6L486,739.1L510,739.4L536,738.1L554,736.6L558,735.7L558,957.8L550,963.3L544,967.8L520,989L514,993.9L508,998.3L502,1002L494,1006L490,1007.5L484,1009.3L476,1010.5L472,1010.6L468,1010L464,1008.2L462,1006.7L460,1004.7L458,1001.7L456,997.8L445,973.1L436.7,957.1L426.8,941.2L421.2,933.2L415,925.2L404,912.4L398,906.3L390,898.7L376,887.2L362,877.5L350,870.7L340,866.3L330,863.2L320,861.4L312,860.9L304,861L272,863.8L260,864.3L250,863.9L240,862.5L234.8,861.3L228.4,859.3L220,855.6L212.8,851.3L206,845.7L202,841.7L198.5,837.3L195.7,833.3L192.3,827.3L190,822.2L188.2,817.3L186,807.4L185.5,797.4L186.1,791.4L187.3,785.4L190.5,775.4L193.3,769.4L196,764.7L202.5,755.4L207.7,749.4L212,745.2L222,736.9L228,732.7L234,729L246,722.9L254,719.6L260.1,717.5L274,713.8L282,712.3Z" fill="#ffd500" fill-rule="evenodd"/>
<path d="M257.9,779.4L264,778.6L270,778.7L276,779.6L282,781.9L284.4,783.4L286.6,785.4L287.9,787.4L288.6,789.4L288.8,793.4L287.5,797.4L285.1,801.4L281.5,805.4L279.3,807.4L272,812.5L264,816.2L258,818.1L252,819.2L246,819L242,817.8L238.2,815.3L236.3,813.3L235,811.3L234,808.9L233.2,805.4L233,803.4L233.5,799.4L234.8,795.4L237.1,791.4L238.7,789.4L243.4,785.4L246.6,783.4L250,781.8ZM421.5,793.4L430,792.7L438,792.6L448,793.1L458,794.1L468,795.5L478,797.4L488,799.8L496,802.4L504,805.5L511.9,809.4L518.7,813.3L524.4,817.3L530,821.8L535.8,827.3L539.3,831.3L543.7,837.3L546.9,843.3L548.5,847.3L549.6,851.3L550.2,855.3L550.3,859.3L549.6,865.3L548.6,869.3L546.5,875.3L543.8,881.2L539.3,889.2L534,897.5L528,905.7L523.4,911.2L518,916.8L512,921.9L508,924.7L502,928.1L496,930.4L492,931.2L486,931.4L480,930.5L474,928.5L466,924.6L460,920.6L456,917.5L450,912L446,907.8L440,900.7L420,873.4L406.2,855.3L400.6,847.3L394.6,837.3L391.8,831.3L390.3,827.3L389.2,823.3L388.6,819.3L388.5,815.3L389.3,811.3L391.3,807.4L392.8,805.4L396,802.4L400.7,799.4L405,797.4L410,795.7L416,794.2Z" fill="#ffbf00" fill-rule="evenodd"/>
<path d="M111,1047L104,1035.8L96.5,1025L88,1014L78,1002M146,1047L138.8,1033L130.8,1019L123.2,1007.1L115.1,995.1L106.1,983.1L97.9,973.1L88,962L78,952M194.4,1047L192,1044.2L190,1041.1L178.3,1021L165.7,1001.1L153.4,983.1L140.3,965.1L126.3,947.1L112,929.9L98,913.9L78,892M343.9,1047L340,1041.8L335.5,1037L330,1032.5L324,1028.9L318,1026.3L312,1024.6L306,1023.6L298,1023.2L290,1023.8L282.7,1025L275.2,1027L268,1029.6L260.4,1033L254,1036.6L238.9,1047M390,1047L382.3,1035L373.9,1023L366.2,1013.1L359.4,1005.1L352,997.5L344.6,991.1L338,986.3L330,981.5L324,978.6L318,976.3L312,974.4L304,972.5L290,970.8L268,969.8L258,969L246.3,967.1L236,964.6L228,961.9L222,959.6L210,953.8L198,946.7L186,938.1L174,927.9L164,918.4L153.5,907.2L142,893.7L132.2,881.2L121.8,867.3L90,822.1L78,805.8M347.8,641.6L365.7,653.6L379,661.6L390.7,667.6L404.8,673.6L420,678.7L434,682L448,684.2L462,684.9L476,684.3L484,683.2L490,682L502,678.5L508,676.1L514,673.2L520,669.6L524,666.8L530,661.9L534,657.9L537.8,653.6L540,650.4L542.4,645.6L543.5,641.6M558,982.1L550,987.4L542.6,993.1L534,1000.4L510,1022L501,1029L492,1035.1L482,1040.3L476,1042.5L472,1043.4L468,1043.9L464,1043.9L460,1043.3L456,1042.1L452,1040.3L447.5,1037L443.8,1033L440.2,1027L437.2,1019L430.7,995.1L426,981.1L423.6,975.1L419.9,967.1L412.9,955.1L404.2,943.2L396,933.9L386,924.5L374,915L362,907.3L350,901L338,896L324,891.7L314,889.5L302,887.7L264,884.1L248,882.1L236,879.7L224,876.1L216,873L210,870.1L200,864L194,859.5L190,855.9L185.6,851.3L182,847L178,841.3L173.3,833.3L170,826.4L167.2,819.3L164.7,811.3L162.8,803.4L161.5,795.4L160.6,787.4L160.3,777.4L160.5,769.4L161.3,761.4L162.6,753.4L164,747.4L166.5,739.5L169.8,731.5L172.9,725.5L178,717.6L184,710.4L190,704.8L198,698.7L206,693.7L216,688.3L257.2,669.6L269,663.6L275.8,659.6L284,653.9L298.3,641.6" fill="none" stroke="#333" stroke-width="1.15"/>
</g>
<rect x="78" y="641.6" width="480" height="405.4" fill="none" stroke="#000" stroke-width="1.6"/>
<rect x="578.5" y="641.60" width="33.7" height="405.40" fill="#ff0000"/>
<rect x="578.5" y="650.05" width="33.7" height="396.95" fill="#ff1500"/>
<rect x="578.5" y="658.49" width="33.7" height="388.51" fill="#ff2a00"/>
<rect x="578.5" y="666.94" width="33.7" height="380.06" fill="#ff4000"/>
<rect x="578.5" y="675.38" width="33.7" height="371.62" fill="#ff5500"/>
<rect x="578.5" y="683.83" width="33.7" height="363.17" fill="#ff6a00"/>
<rect x="578.5" y="692.28" width="33.7" height="354.72" fill="#ff8000"/>
<rect x="578.5" y="700.72" width="33.7" height="346.28" fill="#ff9500"/>
<rect x="578.5" y="709.17" width="33.7" height="337.83" fill="#ffaa00"/>
<rect x="578.5" y="717.61" width="33.7" height="329.39" fill="#ffbf00"/>
<rect x="578.5" y="726.06" width="33.7" height="320.94" fill="#ffd500"/>
<rect x="578.5" y="734.50" width="33.7" height="312.50" fill="#ffea00"/>
<rect x="578.5" y="742.95" width="33.7" height="304.05" fill="#ffff00"/>
<rect x="578.5" y="751.40" width="33.7" height="295.60" fill="#eaff00"/>
<rect x="578.5" y="759.84" width="33.7" height="287.16" fill="#d5ff00"/>
<rect x="578.5" y="768.29" width="33.7" height="278.71" fill="#bfff00"/>
<rect x="578.5" y="776.73" width="33.7" height="270.27" fill="#aaff00"/>
<rect x="578.5" y="785.18" width="33.7" height="261.82" fill="#95ff00"/>
<rect x="578.5" y="793.62" width="33.7" height="253.38" fill="#80ff00"/>
<rect x="578.5" y="802.07" width="33.7" height="244.93" fill="#6aff00"/>
<rect x="578.5" y="810.52" width="33.7" height="236.48" fill="#55ff00"/>
<rect x="578.5" y="818.96" width="33.7" height="228.04" fill="#40ff00"/>
<rect x="578.5" y="827.41" width="33.7" height="219.59" fill="#2aff00"/>
<rect x="578.5" y="835.85" width="33.7" height="211.15" fill="#15ff00"/>
<rect x="578.5" y="844.30" width="33.7" height="202.70" fill="#00ff00"/>
<rect x="578.5" y="852.75" width="33.7" height="194.25" fill="#00ff15"/>
<rect x="578.5" y="861.19" width="33.7" height="185.81" fill="#00ff2b"/>
<rect x="578.5" y="869.64" width="33.7" height="177.36" fill="#00ff40"/>
<rect x="578.5" y="878.08" width="33.7" height="168.92" fill="#00ff55"/>
<rect x="578.5" y="886.53" width="33.7" height="160.47" fill="#00ff6a"/>
<rect x="578.5" y="894.98" width="33.7" height="152.02" fill="#00ff80"/>
<rect x="578.5" y="903.42" width="33.7" height="143.58" fill="#00ff95"/>
<rect x="578.5" y="911.87" width="33.7" height="135.13" fill="#00ffaa"/>
<rect x="578.5" y="920.31" width="33.7" height="126.69" fill="#00ffbf"/>
<rect x="578.5" y="928.76" width="33.7" height="118.24" fill="#00ffd4"/>
<rect x="578.5" y="937.20" width="33.7" height="109.80" fill="#00ffea"/>
<rect x="578.5" y="945.65" width="33.7" height="101.35" fill="#00ffff"/>
<rect x="578.5" y="954.10" width="33.7" height="92.90" fill="#00eaff"/>
<rect x="578.5" y="962.54" width="33.7" height="84.46" fill="#00d4ff"/>
<rect x="578.5" y="970.99" width="33.7" height="76.01" fill="#00bfff"/>
<rect x="578.5" y="979.43" width="33.7" height="67.57" fill="#00aaff"/>
<rect x="578.5" y="987.88" width="33.7" height="59.12" fill="#0095ff"/>
<rect x="578.5" y="996.33" width="33.7" height="50.67" fill="#0080ff"/>
<rect x="578.5" y="1004.77" width="33.7" height="42.23" fill="#006aff"/>
<rect x="578.5" y="1013.22" width="33.7" height="33.78" fill="#0055ff"/>
<rect x="578.5" y="1021.66" width="33.7" height="25.34" fill="#0040ff"/>
<rect x="578.5" y="1030.11" width="33.7" height="16.89" fill="#002aff"/>
<rect x="578.5" y="1038.55" width="33.7" height="8.45" fill="#0015ff"/>
<rect x="578.5" y="641.6" width="33.7" height="405.4" fill="none" stroke="#000" stroke-width="1.6"/>
<text x="624.6" y="1051.80" font-size="14.0" textLength="29.6" lengthAdjust="spacingAndGlyphs">19.00</text>
<text x="624.6" y="1001.12" font-size="14.0" textLength="29.6" lengthAdjust="spacingAndGlyphs">19.21</text>
<text x="624.6" y="950.45" font-size="14.0" textLength="29.6" lengthAdjust="spacingAndGlyphs">19.43</text>
<text x="624.6" y="899.77" font-size="14.0" textLength="29.6" lengthAdjust="spacingAndGlyphs">19.64</text>
<text x="624.6" y="849.10" font-size="14.0" textLength="29.6" lengthAdjust="spacingAndGlyphs">19.85</text>
<text x="624.6" y="798.42" font-size="14.0" textLength="29.6" lengthAdjust="spacingAndGlyphs">20.06</text>
<text x="624.6" y="747.75" font-size="14.0" textLength="29.6" lengthAdjust="spacingAndGlyphs">20.28</text>
<text x="624.6" y="697.08" font-size="14.0" textLength="29.6" lengthAdjust="spacingAndGlyphs">20.49</text>
<text x="624.6" y="646.40" font-size="14.0" textLength="29.6" lengthAdjust="spacingAndGlyphs">20.70</text>
<path d="M612.2,1047.00h7.2M612.2,996.33h7.2M612.2,945.65h7.2M612.2,894.98h7.2M612.2,844.30h7.2M612.2,793.62h7.2M612.2,742.95h7.2M612.2,692.28h7.2M612.2,641.60h7.2" stroke="#000" stroke-width="1.4" fill="none"/>
<text x="78" y="1068.80" font-size="17.6" text-anchor="middle" textLength="8.4" lengthAdjust="spacingAndGlyphs">0</text>
<text x="158" y="1068.80" font-size="17.6" text-anchor="middle" textLength="25.3" lengthAdjust="spacingAndGlyphs">140</text>
<text x="238" y="1068.80" font-size="17.6" text-anchor="middle" textLength="25.3" lengthAdjust="spacingAndGlyphs">280</text>
<text x="318" y="1068.80" font-size="17.6" text-anchor="middle" textLength="25.3" lengthAdjust="spacingAndGlyphs">420</text>
<text x="398" y="1068.80" font-size="17.6" text-anchor="middle" textLength="25.3" lengthAdjust="spacingAndGlyphs">560</text>
<text x="478" y="1068.80" font-size="17.6" text-anchor="middle" textLength="25.3" lengthAdjust="spacingAndGlyphs">700</text>
<text x="558" y="1068.80" font-size="17.6" text-anchor="middle" textLength="25.3" lengthAdjust="spacingAndGlyphs">840</text>
<text x="69.9" y="1052.15" font-size="17.6" text-anchor="end" textLength="8.4" lengthAdjust="spacingAndGlyphs">0</text>
<text x="69.9" y="984.58" font-size="17.6" text-anchor="end" textLength="25.3" lengthAdjust="spacingAndGlyphs">120</text>
<text x="69.9" y="917.02" font-size="17.6" text-anchor="end" textLength="25.3" lengthAdjust="spacingAndGlyphs">240</text>
<text x="69.9" y="849.45" font-size="17.6" text-anchor="end" textLength="25.3" lengthAdjust="spacingAndGlyphs">360</text>
<text x="69.9" y="781.88" font-size="17.6" text-anchor="end" textLength="25.3" lengthAdjust="spacingAndGlyphs">480</text>
<text x="69.9" y="714.32" font-size="17.6" text-anchor="end" textLength="25.3" lengthAdjust="spacingAndGlyphs">600</text>
<text x="69.9" y="646.75" font-size="17.6" text-anchor="end" textLength="25.3" lengthAdjust="spacingAndGlyphs">720</text>
<text x="318.7" y="1100.60" font-size="20" text-anchor="middle" textLength="235.5" lengthAdjust="spacingAndGlyphs">The horizontal direction/mm</text>
<text transform="translate(22.7,844.3) rotate(-90)" font-size="20.2" text-anchor="middle" textLength="210.5" lengthAdjust="spacingAndGlyphs">The vertical direction/mm</text>
<text x="340.6" y="1128.60" font-size="26" text-anchor="middle" textLength="236" lengthAdjust="spacingAndGlyphs">b. 30 min for Case VII</text>
<text x="676.4" y="627.50" font-size="20" text-anchor="end" textLength="161" lengthAdjust="spacingAndGlyphs">The temperature/°C</text>
</g>
<g id="plot-c">
<clipPath id="cpc"><rect x="78.5" y="1197.2" width="479.5" height="406.1"/></clipPath>
<g clip-path="url(#cpc)">
<rect x="77.5" y="1196.2" width="481.5" height="408.1" fill="#00eaff"/>
<path d="M78.5,1197.2L558,1197.2L558,1603.3L83,1603.3L78.5,1597.7Z" fill="#00ffff" fill-rule="evenodd"/>
<path d="M78.5,1197.2L558,1197.2L558,1603.3L94.8,1603.3L88,1593.3L78.5,1584.1Z" fill="#00ffea" fill-rule="evenodd"/>
<path d="M78.5,1197.2L558,1197.2L558,1603.3L102.4,1603.3L97.8,1595.3L92.5,1588.1L86.5,1581.7L78.5,1574.8Z" fill="#00ffd4" fill-rule="evenodd"/>
<path d="M78.5,1197.2L558,1197.2L558,1603.3L108.9,1603.3L103.3,1593.3L96.5,1583.8L88.5,1575.1L78.5,1566.4Z" fill="#00ffbf" fill-rule="evenodd"/>
<path d="M78.5,1197.2L558,1197.2L558,1603.3L115.2,1603.3L108.4,1591.3L104.4,1585.3L99.8,1579.3L90.5,1569L84.5,1563.3L78.5,1558.2Z" fill="#00ffaa" fill-rule="evenodd"/>
<path d="M78.5,1197.2L558,1197.2L558,1603.3L121.3,1603.3L111.9,1587.3L102.5,1574.2L96.5,1567.2L90.5,1560.9L78.5,1550.2Z" fill="#00ff95" fill-rule="evenodd"/>
<path d="M78.5,1197.2L558,1197.2L558,1603.3L127.6,1603.3L115.4,1583.3L109.8,1575.3L104.5,1568.3L98.5,1561.2L92.5,1554.7L86.5,1549L78.5,1542.1Z" fill="#00ff80" fill-rule="evenodd"/>
<path d="M78.5,1197.2L558,1197.2L558,1603.3L134,1603.3L120.3,1581.3L113.4,1571.3L106.5,1562.2L99,1553.3L92.5,1546.4L86.5,1540.7L78.5,1534Z" fill="#00ff6a" fill-rule="evenodd"/>
<path d="M78.5,1197.2L558,1197.2L558,1603.3L140.6,1603.3L132,1589.3L122.8,1575.3L115.8,1565.3L108.5,1555.7L101.4,1547.3L94.5,1540L88.5,1534.3L78.5,1525.6Z" fill="#00ff55" fill-rule="evenodd"/>
<path d="M78.5,1197.2L558,1197.2L558,1603.3L147.5,1603.3L128.3,1573.3L119.9,1561.3L112.3,1551.3L104.5,1541.9L96.5,1533.4L88.5,1525.7L78.5,1516.9Z" fill="#00ff40" fill-rule="evenodd"/>
<path d="M78.5,1197.2L558,1197.2L558,1603.3L154.8,1603.3L142.1,1583.3L132.8,1569.3L122.8,1555.3L115.2,1545.3L106.7,1535.3L98.5,1526.5L88.5,1516.8L78.5,1507.8Z" fill="#00ff2b" fill-rule="evenodd"/>
<path d="M78.5,1197.2L558,1197.2L558,1603.3L162.6,1603.3L139,1567.3L129.1,1553.3L119.9,1541.3L110.5,1530L100.5,1519.2L90.5,1509.3L78.5,1498.4Z" fill="#00ff15" fill-rule="evenodd"/>
<path d="M78.5,1197.2L558,1197.2L558,1603.3L309.7,1603.3L304.3,1603L298.8,1603.3L171.1,1603.3L155.3,1579.3L144.3,1563.3L132.7,1547.3L122.5,1534.1L112.5,1522.2L102.5,1511.3L90.5,1499.4L78.5,1488.4Z" fill="#00ff00" fill-rule="evenodd"/>
<path d="M78.5,1197.2L558,1197.2L558,1603.3L332.6,1603.3L330.2,1601.1L326.2,1598.3L320.2,1595.3L316.3,1594L312.3,1593.1L304.3,1592.5L296.3,1593L286.3,1595L276.3,1598.4L265.8,1603.3L181.2,1603.3L178.4,1600L162.9,1577.3L147.2,1555.3L135.2,1539.3L124.5,1525.7L113.9,1513.3L102.5,1500.8L90.5,1488.8L78.5,1477.9Z" fill="#15ff00" fill-rule="evenodd"/>
<path d="M78.5,1197.2L558,1197.2L558,1603.3L342.6,1603.3L339.3,1599.3L335.1,1595.3L330.2,1591.7L326.2,1589.3L321.6,1587.3L316.3,1585.6L310.3,1584.4L304.3,1583.9L294.3,1584.3L288.3,1585.2L282.3,1586.5L274.3,1588.9L256.3,1595.8L246.3,1599L236.3,1601.6L226,1603.3L207.6,1603.3L204.4,1602.8L198.8,1601.3L194.4,1599.6L190.4,1597.3L188.4,1595.8L184.4,1591.8L180.4,1586.9L142.9,1537.3L120.5,1509.5L110.5,1498L100.5,1487.4L78.5,1466.1Z" fill="#2aff00" fill-rule="evenodd"/>
<path d="M78.5,1197.2L558,1197.2L558,1603.3L351.1,1603.3L346.2,1597.1L340.7,1591.3L335.9,1587.3L330.2,1583.6L324.2,1580.6L318.2,1578.5L312.3,1577L304.3,1576.1L294.3,1576.2L282.3,1577.8L272.3,1580.1L252.3,1586.1L242.3,1588.8L232.3,1590.8L222.3,1591.8L212.4,1591.5L204.4,1589.8L200.4,1588.4L196.4,1586.2L190.4,1581.7L184.4,1575.8L176.4,1566.6L135.4,1515.3L116.5,1492.7L100.5,1475.3L78.5,1453.7Z" fill="#40ff00" fill-rule="evenodd"/>
<path d="M78.5,1197.2L558,1197.2L558,1603.3L358.9,1603.3L354.6,1597.3L349.6,1591.3L344.2,1585.9L338.2,1581L332.2,1577.1L326.2,1574L320.2,1571.7L314.3,1570.1L308.3,1569L300.3,1568.4L294.3,1568.4L286.3,1569L272.3,1571.1L250.3,1575.9L240.3,1577.8L230.3,1578.9L222.3,1579.1L214.4,1578.3L206.4,1576.1L200.4,1573.2L196.4,1570.6L192.4,1567.5L184.4,1560.1L172.4,1547.1L158.4,1530.5L127.8,1493.3L110.5,1473.2L94.5,1456.3L78.5,1441.3Z" fill="#55ff00" fill-rule="evenodd"/>
<path d="M78.5,1197.2L558,1197.2L558,1603.3L366.6,1603.3L360.9,1595.3L356.1,1589.3L350.2,1583L344.2,1577.6L338.2,1573.2L332.2,1569.5L326.2,1566.6L318.2,1563.8L312.3,1562.3L306.3,1561.4L300.3,1560.9L292.3,1560.8L276.3,1561.9L242.3,1566.2L232.3,1566.6L224.3,1566.2L218.6,1565.3L214.4,1564.2L206.4,1561.1L198.4,1556.4L190.4,1550.2L180.4,1540.9L166.4,1525.9L123.7,1475.3L106.5,1455.8L92.5,1441.6L78.5,1429.4Z" fill="#6aff00" fill-rule="evenodd"/>
<path d="M78.5,1197.2L558,1197.2L558,1603.3L374.2,1603.3L367.1,1593.3L362.2,1587L356.2,1580.2L350.2,1574.4L344.2,1569.5L338.2,1565.3L332.2,1561.9L324.2,1558.3L318.2,1556.3L312.3,1554.8L306.3,1553.8L298.3,1553.1L282.3,1553.1L254.3,1554.7L244.3,1554.9L234.3,1554.5L226.3,1553.4L216.4,1550.7L208.4,1547.3L198.4,1541.2L188.4,1533.4L176.4,1522.2L164.4,1509.5L121,1459.3L106.5,1443.3L94.5,1431.4L78.5,1417.7Z" fill="#80ff00" fill-rule="evenodd"/>
<path d="M78.5,1197.2L558,1197.2L558,1603.3L381.9,1603.3L368.2,1584.3L362.2,1577.2L356.2,1571.1L349.6,1565.3L342.2,1559.8L336.2,1556L328.2,1552.1L322.2,1549.8L316.3,1548L310.3,1546.7L302.3,1545.5L288.3,1544.6L250.3,1544L240.3,1543.1L230.1,1541.3L224.3,1539.7L218.4,1537.5L208.4,1532.8L198.4,1526.5L186.4,1517.2L176.4,1508L166.4,1497.8L126.4,1453.3L108.5,1434.1L96.5,1422L80.9,1407.3L78.5,1404.3Z" fill="#95ff00" fill-rule="evenodd"/>
<path d="M78.5,1197.2L558,1197.2L558,1603.3L389.4,1603.3L384.2,1595.2L374.2,1581.3L368.2,1573.9L362.2,1567.4L355.7,1561.3L348.2,1555.2L342.2,1551.1L334.2,1546.6L328.2,1543.9L322.2,1541.6L316.3,1539.9L308.3,1538.1L292.3,1536.1L266.3,1534.3L254.3,1533.2L242.3,1531.4L232.3,1529L220.4,1524.7L208.4,1518.7L198.4,1512.3L186.4,1503.1L174.4,1492.3L162.4,1480.4L136.9,1453.3L115.5,1431.3L95.4,1409.3L92.3,1405.3L89.9,1401.3L85.1,1391.2L78.5,1376Z" fill="#aaff00" fill-rule="evenodd"/>
<path d="M78.5,1197.2L558,1197.2L558,1603.3L396.8,1603.3L390.2,1592.3L382.8,1581.3L376.2,1572.4L370.2,1565.3L364.2,1559L356.2,1551.8L348.2,1545.8L340.2,1540.9L334.2,1537.8L326.2,1534.4L320.2,1532.4L312.3,1530.3L296.3,1527.3L268.3,1523.8L256.3,1522L244.3,1519.4L232.3,1515.9L220.4,1511L208.4,1504.7L196.4,1497L182.4,1486.1L166.4,1471.6L142.3,1447.3L124.5,1430.5L117.7,1423.3L109.1,1413.3L101.9,1403.3L96.5,1393.9L90.3,1381.2L85.5,1369.2L81.7,1357.2L78.5,1344.3Z" fill="#bfff00" fill-rule="evenodd"/>
<path d="M78.5,1197.2L558,1197.2L558,1603.3L404.5,1603.3L396.5,1589.3L390.2,1579.2L383.3,1569.3L376.9,1561.3L370.2,1553.8L362.2,1546.3L354.2,1540L346.2,1534.7L340.2,1531.3L332.2,1527.6L324.2,1524.5L316.3,1522L300.3,1518.2L272.3,1513.2L258.3,1510.3L244.3,1506.6L232.3,1502.4L218.4,1496.2L204.4,1488.3L190.4,1478.8L176.4,1467.7L166.4,1458.7L144.4,1437.2L130.6,1425.3L122.5,1415.6L114.5,1405L106.5,1392.3L102.5,1385L98.5,1376.8L92.5,1361.9L88.4,1349.2L83.3,1329.2L81.4,1319.2L78.5,1300Z" fill="#d5ff00" fill-rule="evenodd"/>
<path d="M108.4,1197.2L558,1197.2L558,1600.8L554,1603.3L412.6,1603.3L402.8,1585.3L397,1575.3L390.4,1565.3L384.2,1556.9L377.7,1549.3L369.8,1541.3L362.2,1534.8L352.2,1527.8L346.2,1524.2L338.2,1520.1L330.2,1516.7L322.2,1513.9L306.3,1509.3L274.3,1501.8L260.3,1498.2L246.3,1493.8L232.3,1488.5L216.4,1480.9L200.4,1471.6L186.4,1461.9L173.5,1451.3L157.3,1435.3L147.9,1425.3L139.5,1415.3L129.8,1401.3L124.9,1393.2L120.5,1385.2L114.7,1373.2L108.2,1357.2L104.9,1347.2L102.7,1339.2L99,1321.2L96.8,1305.2L95.6,1287.2L95.7,1269.2L97,1251.2L99.5,1233.2L103.8,1213.2Z" fill="#eaff00" fill-rule="evenodd"/>
<path d="M143.7,1197.2L558,1197.2L558,1579.4L546,1587.4L524.9,1603.3L421.4,1603.3L410.1,1581.3L404.6,1571.3L398.5,1561.3L392.2,1552.1L385.1,1543.3L377.5,1535.3L368.5,1527.3L360.2,1521.1L352.2,1516.1L344.2,1511.8L336.2,1508.2L328.2,1505.1L312.3,1499.9L281,1491.3L266.3,1486.9L252.3,1482.1L238.3,1476.6L224.3,1470L212,1463.3L196.4,1453.3L188.8,1447.3L174.4,1433.8L164.4,1423.2L158.4,1416L153.4,1409.3L144.4,1395.5L136.7,1381.2L130.4,1366.7L125.4,1351.2L121.6,1335.2L120.3,1327.2L119.1,1317.2L118.2,1299.2L118.7,1281.2L119.6,1271.2L120.9,1261.2L122.5,1252.2L124.5,1242.9L127,1233.2L129.6,1225.2L132.7,1217.2L136.2,1209.2L138.4,1205Z" fill="#ffff00" fill-rule="evenodd"/>
<path d="M366.1,1197.2L558,1197.2L558,1557L544,1567L510.5,1593.3L496,1603.3L432.3,1603.3L428.5,1597.3L418.9,1577.3L412.7,1565.3L406.8,1555.3L400.3,1545.3L392.6,1535.3L386.2,1528.2L378.2,1520.7L368.7,1513.3L362.2,1508.9L354.2,1504.3L346.2,1500.3L336.2,1496.1L320.2,1490.5L290,1481.3L274.3,1476.2L258.3,1470.3L246.3,1465.3L234,1459.3L222.3,1452.6L211.5,1445.3L202.4,1437.9L193.2,1429.3L185.8,1421.3L177.7,1411.3L170.7,1401.3L163.4,1389.2L158.2,1379.2L152.9,1367.2L148.5,1355.2L145.6,1345.2L143.3,1335.2L141.7,1325.2L140.8,1315.2L140.6,1305.2L141.2,1295.2L142.5,1285.2L144.4,1276L146.9,1267.2L150.4,1257.9L154.4,1249.3L159,1241.2L164.4,1233.4L170.4,1226.2L176.4,1220.4L182.4,1215.7L190.4,1210.9L194.4,1209.2L200.4,1207.2L210.4,1205.3L216.4,1204.8L222.3,1204.7L232.3,1205.4L244.3,1207L284.3,1215.1L296.5,1217.2L310.3,1218.5L322.2,1218.2L328.2,1217.5L334.2,1216.1L340.2,1214.2L344.2,1212.6L350.2,1209.5L353.8,1207.2L359.2,1203.2Z" fill="#ffea00" fill-rule="evenodd"/>
<path d="M420,1197.2L558,1197.2L558,1533.8L548,1540.5L540,1546.4L506.1,1574.5L491.7,1585.3L484.1,1590.1L477.9,1593.3L470.1,1596.2L464.1,1597.4L458.1,1597.8L452.1,1597L448.1,1595.6L446.1,1594.6L441.9,1591.3L438.7,1587.3L436.1,1583.3L423.4,1559.3L416.5,1547.3L411.5,1539.3L405.9,1531.3L399.5,1523.3L391.9,1515.3L384.2,1508.4L374.7,1501.3L368.2,1497.2L360.2,1492.7L352.2,1488.9L342.2,1484.8L326.2,1479.2L282.3,1465.5L270.7,1461.3L260.3,1456.9L248.9,1451.3L238.3,1445.2L228.3,1438.4L218.4,1430.5L208.4,1421.1L197.7,1409.3L186.4,1394.6L176,1379.2L173.1,1373.2L170.8,1365.2L168.2,1353.2L166,1339.2L165.1,1325.2L165.2,1317.2L165.6,1311.2L166.5,1305.2L167.7,1299.2L169.4,1293.2L171.6,1287.2L176.6,1277.2L180.4,1271.4L184.4,1266.3L188.4,1262.1L192.4,1258.4L196.4,1255.2L202.6,1251.2L210.4,1247.4L216.6,1245.2L224.3,1243.3L234.3,1241.8L250.3,1241.1L286.3,1242.1L302.3,1242L314.3,1241.2L326.2,1239.3L344.2,1233.9L354.2,1230.1L362.2,1226.7L381.7,1217.2Z" fill="#ffd500" fill-rule="evenodd"/>
<path d="M472.2,1227.2L490.1,1226.4L510,1226.5L526,1227.3L552,1229.7L558,1229.8L558,1507.4L546,1515.6L534,1524.4L522.8,1533.3L500.1,1552.2L488.1,1561.1L480.1,1566L474.1,1568.8L468.1,1570.5L464.1,1570.9L460.1,1570.5L456.1,1569.2L452.1,1566.9L448.1,1563.4L444.1,1558.8L440.1,1553.3L421.9,1525.3L412.8,1513.3L407.4,1507.3L400.2,1500.4L393.9,1495.3L385.3,1489.3L376.2,1483.9L368.2,1479.8L360.2,1476.2L350.2,1472.3L332.2,1466.3L288.3,1453.4L274.3,1448.2L264.3,1443.4L256.3,1438.8L246.3,1432.2L237.4,1425.3L226.4,1415.3L215.2,1403.3L205.7,1391.2L197.8,1379.2L193.8,1371.2L192.3,1367.2L190.7,1361.2L189.4,1351.2L189.2,1341.2L190.3,1329.2L192.4,1319.9L195.4,1311.2L197.3,1307.2L200.4,1301.9L206.4,1294.1L210.4,1290.1L213.7,1287.2L218.4,1283.9L222.3,1281.4L230.3,1277.6L236.3,1275.4L242.3,1273.7L250.3,1271.9L258.3,1270.7L274.3,1269.2L308.3,1267.5L320.2,1265.5L332.2,1262.8L346.2,1258.9L400.2,1241.4L422.1,1235.2L434.1,1232.4L446.1,1230.2L458.1,1228.6Z" fill="#ffbf00" fill-rule="evenodd"/>
<path d="M418.5,1277.2L438.1,1276L456.1,1275.5L474.1,1275.8L490.1,1276.6L506.1,1278.2L522,1280.5L534,1282.7L558,1288L558,1474.4L532,1493.4L498.1,1517.4L486.1,1524.6L480.1,1527.3L476.1,1528.5L470.1,1529.4L466.1,1529.2L460.1,1527.5L456.1,1525.4L450.1,1520.6L437.3,1505.3L431.4,1499.3L424.6,1493.3L416.9,1487.3L408.1,1481.3L398.2,1475.4L390.1,1471.3L372.2,1463.4L354.2,1456.8L334.2,1450.5L295.1,1439.3L286.3,1436.5L278.7,1433.3L271.8,1429.3L263.2,1423.3L253.5,1415.3L245.2,1407.3L236.3,1397.2L228.7,1387.2L223.7,1379.2L220.9,1373.2L218.4,1365.2L217.3,1357.2L217.3,1353.2L217.8,1347.2L218.5,1343.2L220.2,1337.2L223.9,1329.2L226.4,1325.2L229.5,1321.2L235.5,1315.2L240.3,1311.5L243.9,1309.2L252.3,1304.9L258.3,1302.5L266.3,1300.1L274.3,1298.1L284.3,1296.2L310.3,1292.8L344.2,1286.8L372.2,1282.5L396.2,1279.4Z" fill="#ffaa00" fill-rule="evenodd"/>
<path d="M360.7,1317.2L384.2,1316.5L406.2,1317.3L428.1,1319.4L440.1,1321.1L451.9,1323.2L474.1,1328.4L494.1,1334.4L514,1341.8L534.9,1351.2L552,1360.3L558,1364.3L558,1415.8L546.4,1431.3L537.4,1441.3L526.5,1451.3L515.5,1459.3L510,1462.5L504.1,1465.5L498.1,1468L492.1,1469.8L486.1,1471.1L480.1,1471.8L474.1,1472.1L468.1,1471.9L460.1,1471.1L450.1,1469.4L440.1,1467L430.1,1464.1L410.2,1457.4L352.2,1436.7L310.7,1423.3L298.3,1418.2L288.9,1413.3L280.3,1407.4L273.6,1401.3L270.1,1397.2L267.1,1393.2L262.4,1385.2L260.7,1381.2L258.8,1375.2L257.9,1371.2L257.4,1367.2L257.4,1363.2L257.9,1359.2L259.8,1353.2L263.2,1347.2L268.3,1341.5L273.6,1337.2L280.3,1333.2L289.5,1329.2L298.3,1326.5L314.3,1323.2L330.2,1320.4L346.2,1318.4Z" fill="#ff9500" fill-rule="evenodd"/>
<path d="M339.6,1361.2L346.2,1360.1L350.2,1359.8L356.2,1359.8L360.2,1360.2L370.2,1362.3L376.2,1364.6L380.2,1366.6L384,1369.2L386.2,1371.2L387.9,1373.2L390.2,1377.2L390.8,1379.2L391.1,1383.2L390.9,1385.2L389.5,1389.2L386.7,1393.2L384.8,1395.2L379,1399.2L372.2,1402.1L364.2,1403.9L354.2,1404.6L342.2,1403.9L332.2,1402L328.2,1400.7L324.2,1398.8L321.7,1397.2L319.3,1395.2L317.4,1393.2L314.8,1389.2L314.1,1387.2L313.4,1383.2L313.9,1379.2L314.6,1377.2L316.3,1374.4L318.9,1371.2L324,1367.2L330.2,1364.1Z" fill="#ff8000" fill-rule="evenodd"/>
<path d="M94.8,1603.3L88,1593.3L78.5,1584.1M134,1603.3L120.3,1581.3L113.4,1571.3L106.5,1562.2L99,1553.3L92.5,1546.4L86.5,1540.7L78.5,1534M181.2,1603.3L178.4,1600L162.9,1577.3L147.2,1555.3L135.2,1539.3L124.5,1525.7L113.9,1513.3L102.5,1500.8L90.5,1488.8L78.5,1477.9M332.6,1603.3L330.2,1601.1L326.2,1598.3L320.2,1595.3L316.3,1594L312.3,1593.1L304.3,1592.5L296.3,1593L286.3,1595L276.3,1598.4L265.8,1603.3M381.9,1603.3L372.2,1589.5L367.4,1583.3L360.4,1575.3L354.3,1569.3L347.1,1563.3L340.2,1558.5L334.2,1554.9L326.2,1551.2L320.2,1549.1L314.3,1547.5L308.3,1546.3L300.3,1545.3L286.3,1544.6L252.3,1544.1L242.3,1543.4L234.3,1542.2L224.3,1539.7L216.4,1536.7L208.4,1532.8L200.4,1527.9L194.4,1523.6L186.4,1517.2L172.4,1504L158.4,1489.2L128.2,1455.3L113.4,1439.3L98.5,1423.9L80.9,1407.3L78.5,1404.3M558,1557L544,1567L510.5,1593.3L496,1603.3M432.3,1603.3L428.5,1597.3L418.9,1577.3L412.7,1565.3L406.8,1555.3L400.3,1545.3L392.6,1535.3L386.2,1528.2L378.2,1520.7L370.2,1514.4L362.2,1508.9L354.2,1504.3L346.2,1500.3L338.2,1496.9L322.2,1491.1L288.3,1480.7L272.3,1475.5L258.3,1470.3L244.3,1464.4L232.3,1458.4L220.2,1451.3L208.9,1443.3L198.4,1434.3L187.6,1423.3L179.3,1413.3L170.7,1401.3L162.3,1387.2L155.4,1373.2L149.9,1359.2L145.6,1345.2L142.6,1331.2L141.3,1321.2L140.7,1313.2L140.6,1305.2L141,1297.2L142.2,1287.2L143.7,1279.2L145.7,1271.2L148.4,1262.9L151.6,1255.2L155.5,1247.2L160.3,1239.2L164.4,1233.4L169.5,1227.2L174.4,1222.2L180.4,1217.1L186.4,1213.1L194.4,1209.2L198.4,1207.7L204.4,1206.2L214.4,1204.9L224.3,1204.8L234.3,1205.6L246.3,1207.4L284.3,1215.1L296.5,1217.2L310.3,1218.5L322.2,1218.2L328.2,1217.5L334.2,1216.1L340.2,1214.2L346.2,1211.6L350.7,1209.2L356.6,1205.2L366.1,1197.2" fill="none" stroke="#333" stroke-width="1.15"/>
</g>
<rect x="78.5" y="1197.2" width="479.5" height="406.1" fill="none" stroke="#000" stroke-width="1.6"/>
<rect x="578.5" y="1197.20" width="33.7" height="406.10" fill="#ff0000"/>
<rect x="578.5" y="1205.66" width="33.7" height="397.64" fill="#ff1500"/>
<rect x="578.5" y="1214.12" width="33.7" height="389.18" fill="#ff2a00"/>
<rect x="578.5" y="1222.58" width="33.7" height="380.72" fill="#ff4000"/>
<rect x="578.5" y="1231.04" width="33.7" height="372.26" fill="#ff5500"/>
<rect x="578.5" y="1239.50" width="33.7" height="363.80" fill="#ff6a00"/>
<rect x="578.5" y="1247.96" width="33.7" height="355.34" fill="#ff8000"/>
<rect x="578.5" y="1256.42" width="33.7" height="346.88" fill="#ff9500"/>
<rect x="578.5" y="1264.88" width="33.7" height="338.42" fill="#ffaa00"/>
<rect x="578.5" y="1273.34" width="33.7" height="329.96" fill="#ffbf00"/>
<rect x="578.5" y="1281.80" width="33.7" height="321.50" fill="#ffd500"/>
<rect x="578.5" y="1290.26" width="33.7" height="313.04" fill="#ffea00"/>
<rect x="578.5" y="1298.72" width="33.7" height="304.58" fill="#ffff00"/>
<rect x="578.5" y="1307.19" width="33.7" height="296.11" fill="#eaff00"/>
<rect x="578.5" y="1315.65" width="33.7" height="287.65" fill="#d5ff00"/>
<rect x="578.5" y="1324.11" width="33.7" height="279.19" fill="#bfff00"/>
<rect x="578.5" y="1332.57" width="33.7" height="270.73" fill="#aaff00"/>
<rect x="578.5" y="1341.03" width="33.7" height="262.27" fill="#95ff00"/>
<rect x="578.5" y="1349.49" width="33.7" height="253.81" fill="#80ff00"/>
<rect x="578.5" y="1357.95" width="33.7" height="245.35" fill="#6aff00"/>
<rect x="578.5" y="1366.41" width="33.7" height="236.89" fill="#55ff00"/>
<rect x="578.5" y="1374.87" width="33.7" height="228.43" fill="#40ff00"/>
<rect x="578.5" y="1383.33" width="33.7" height="219.97" fill="#2aff00"/>
<rect x="578.5" y="1391.79" width="33.7" height="211.51" fill="#15ff00"/>
<rect x="578.5" y="1400.25" width="33.7" height="203.05" fill="#00ff00"/>
<rect x="578.5" y="1408.71" width="33.7" height="194.59" fill="#00ff15"/>
<rect x="578.5" y="1417.17" width="33.7" height="186.13" fill="#00ff2b"/>
<rect x="578.5" y="1425.63" width="33.7" height="177.67" fill="#00ff40"/>
<rect x="578.5" y="1434.09" width="33.7" height="169.21" fill="#00ff55"/>
<rect x="578.5" y="1442.55" width="33.7" height="160.75" fill="#00ff6a"/>
<rect x="578.5" y="1451.01" width="33.7" height="152.29" fill="#00ff80"/>
<rect x="578.5" y="1459.47" width="33.7" height="143.83" fill="#00ff95"/>
<rect x="578.5" y="1467.93" width="33.7" height="135.37" fill="#00ffaa"/>
<rect x="578.5" y="1476.39" width="33.7" height="126.91" fill="#00ffbf"/>
<rect x="578.5" y="1484.85" width="33.7" height="118.45" fill="#00ffd4"/>
<rect x="578.5" y="1493.31" width="33.7" height="109.99" fill="#00ffea"/>
<rect x="578.5" y="1501.78" width="33.7" height="101.52" fill="#00ffff"/>
<rect x="578.5" y="1510.24" width="33.7" height="93.06" fill="#00eaff"/>
<rect x="578.5" y="1518.70" width="33.7" height="84.60" fill="#00d4ff"/>
<rect x="578.5" y="1527.16" width="33.7" height="76.14" fill="#00bfff"/>
<rect x="578.5" y="1535.62" width="33.7" height="67.68" fill="#00aaff"/>
<rect x="578.5" y="1544.08" width="33.7" height="59.22" fill="#0095ff"/>
<rect x="578.5" y="1552.54" width="33.7" height="50.76" fill="#0080ff"/>
<rect x="578.5" y="1561.00" width="33.7" height="42.30" fill="#006aff"/>
<rect x="578.5" y="1569.46" width="33.7" height="33.84" fill="#0055ff"/>
<rect x="578.5" y="1577.92" width="33.7" height="25.38" fill="#0040ff"/>
<rect x="578.5" y="1586.38" width="33.7" height="16.92" fill="#002aff"/>
<rect x="578.5" y="1594.84" width="33.7" height="8.46" fill="#0015ff"/>
<rect x="578.5" y="1197.2" width="33.7" height="406.1" fill="none" stroke="#000" stroke-width="1.6"/>
<text x="624.6" y="1608.10" font-size="14.0" textLength="29.6" lengthAdjust="spacingAndGlyphs">19.00</text>
<text x="624.6" y="1557.34" font-size="14.0" textLength="29.6" lengthAdjust="spacingAndGlyphs">19.21</text>
<text x="624.6" y="1506.58" font-size="14.0" textLength="29.6" lengthAdjust="spacingAndGlyphs">19.43</text>
<text x="624.6" y="1455.81" font-size="14.0" textLength="29.6" lengthAdjust="spacingAndGlyphs">19.64</text>
<text x="624.6" y="1405.05" font-size="14.0" textLength="29.6" lengthAdjust="spacingAndGlyphs">19.85</text>
<text x="624.6" y="1354.29" font-size="14.0" textLength="29.6" lengthAdjust="spacingAndGlyphs">20.06</text>
<text x="624.6" y="1303.52" font-size="14.0" textLength="29.6" lengthAdjust="spacingAndGlyphs">20.28</text>
<text x="624.6" y="1252.76" font-size="14.0" textLength="29.6" lengthAdjust="spacingAndGlyphs">20.49</text>
<text x="624.6" y="1202.00" font-size="14.0" textLength="29.6" lengthAdjust="spacingAndGlyphs">20.70</text>
<path d="M612.2,1603.30h7.2M612.2,1552.54h7.2M612.2,1501.78h7.2M612.2,1451.01h7.2M612.2,1400.25h7.2M612.2,1349.49h7.2M612.2,1298.72h7.2M612.2,1247.96h7.2M612.2,1197.20h7.2" stroke="#000" stroke-width="1.4" fill="none"/>
<text x="78.5" y="1624.80" font-size="17.8" text-anchor="middle" textLength="8.3" lengthAdjust="spacingAndGlyphs">0</text>
<text x="158.4" y="1624.80" font-size="17.8" text-anchor="middle" textLength="25" lengthAdjust="spacingAndGlyphs">140</text>
<text x="238.3" y="1624.80" font-size="17.8" text-anchor="middle" textLength="25" lengthAdjust="spacingAndGlyphs">280</text>
<text x="318.2" y="1624.80" font-size="17.8" text-anchor="middle" textLength="25" lengthAdjust="spacingAndGlyphs">420</text>
<text x="398.2" y="1624.80" font-size="17.8" text-anchor="middle" textLength="25" lengthAdjust="spacingAndGlyphs">560</text>
<text x="478.1" y="1624.80" font-size="17.8" text-anchor="middle" textLength="25" lengthAdjust="spacingAndGlyphs">700</text>
<text x="558" y="1624.80" font-size="17.8" text-anchor="middle" textLength="25" lengthAdjust="spacingAndGlyphs">840</text>
<text x="70.5" y="1608.70" font-size="17.8" text-anchor="end" textLength="8.3" lengthAdjust="spacingAndGlyphs">0</text>
<text x="70.5" y="1541.02" font-size="17.8" text-anchor="end" textLength="25" lengthAdjust="spacingAndGlyphs">120</text>
<text x="70.5" y="1473.33" font-size="17.8" text-anchor="end" textLength="25" lengthAdjust="spacingAndGlyphs">240</text>
<text x="70.5" y="1405.65" font-size="17.8" text-anchor="end" textLength="25" lengthAdjust="spacingAndGlyphs">360</text>
<text x="70.5" y="1337.97" font-size="17.8" text-anchor="end" textLength="25" lengthAdjust="spacingAndGlyphs">480</text>
<text x="70.5" y="1270.28" font-size="17.8" text-anchor="end" textLength="25" lengthAdjust="spacingAndGlyphs">600</text>
<text x="70.5" y="1202.60" font-size="17.8" text-anchor="end" textLength="25" lengthAdjust="spacingAndGlyphs">720</text>
<text x="319" y="1657.10" font-size="20" text-anchor="middle" textLength="234.5" lengthAdjust="spacingAndGlyphs">The horizontal direction/mm</text>
<text transform="translate(22.7,1400.2) rotate(-90)" font-size="20.2" text-anchor="middle" textLength="210.5" lengthAdjust="spacingAndGlyphs">The vertical direction/mm</text>
<text x="340.8" y="1683.90" font-size="26" text-anchor="middle" textLength="235" lengthAdjust="spacingAndGlyphs">c. 60 min for Case VII</text>
<text x="676.4" y="1182.80" font-size="20" text-anchor="end" textLength="161" lengthAdjust="spacingAndGlyphs">The temperature/°C</text>
</g>
</svg>
</body></html>
